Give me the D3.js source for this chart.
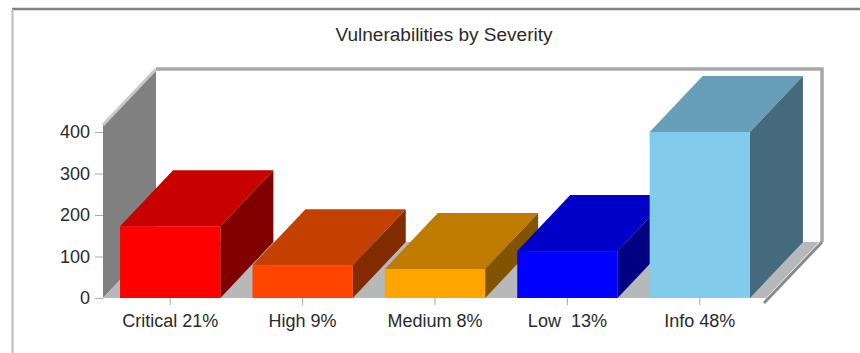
<!DOCTYPE html>
<html>
<head>
<meta charset="utf-8">
<script src="https://cdn.jsdelivr.net/npm/d3@7"></script>
<style>
  html, body { margin: 0; padding: 0; background: #fff; }
  svg { display: block; }
  text { font-family: "Liberation Sans", Arial, sans-serif; fill: #2a2a2a; white-space: pre; }
</style>
</head>
<body>
<div id="chart"></div>
<script>
// Severity counts behind the 3D column chart
const categories = ["Critical 21%", "High 9%", "Medium 8%", "Low  13%", "Info 48%"];
const counts = [173, 79, 70, 113, 400];
const tickValues = [0, 100, 200, 300, 400];
const frontColors = ["#ff0000", "#ff4500", "#ffa500", "#0000ff", "#82cbea"];
const topColors = ["#c80000", "#c44000", "#c07c00", "#0000c8", "#689eb8"];
const sideColors = ["#800000", "#802c00", "#805400", "#000080", "#456a7d"];
const chartTitle = "Vulnerabilities by Severity";

const width = 860, height = 353;
const depthX = 53, depthY = 56;

const x = d3.scaleBand().domain(categories).range([104, 766]).paddingInner(0.2424).paddingOuter(0.1212);
const y = d3.scaleLinear().domain([0, 400]).range([298, 132]);

const svg = d3.select("#chart").append("svg").attr("width", width).attr("height", height);
const poly = pts => d3.line()(pts) + "Z";

// Outer panel border
svg.append("rect").attr("width", width).attr("height", height).attr("fill", "#fff");
svg.append("path").attr("d", `M12,9H${width}`).attr("stroke", "#808080").attr("stroke-width", 2.5);
svg.append("path").attr("d", `M12.5,9V${height}`).attr("stroke", "#bcbcbc").attr("stroke-width", 2);

svg.append("text").attr("x", 444).attr("y", 41).attr("text-anchor", "middle")
  .attr("font-size", 18).attr("textLength", 217).attr("lengthAdjust", "spacingAndGlyphs").text(chartTitle);

// Box of the plot: side wall, floor, back wall rim
const wallLeft = 103, wallRight = 766, wallTop = y(417), base = y(0);
svg.append("path").attr("d", poly([[wallLeft, wallTop], [wallLeft + depthX, wallTop - depthY], [wallLeft + depthX, base - depthY], [wallLeft, base]])).attr("fill", "#808080");
svg.append("path").attr("d", poly([[wallLeft, base], [wallLeft + depthX, base - depthY], [wallRight + depthX, base - depthY], [wallRight, base]])).attr("fill", "#b6b8ba");
svg.append("path").attr("d", `M${wallLeft},${wallTop}L${wallLeft + depthX},${wallTop - depthY}`).attr("stroke", "#c8c8c8").attr("stroke-width", 3);
svg.append("path").attr("d", `M${wallLeft + depthX},${wallTop - depthY}H${wallRight + depthX + 3}V${base - depthY}`)
  .attr("fill", "none").attr("stroke", "#a8a8a8").attr("stroke-width", 3.5);
svg.append("path").attr("d", `M${wallRight + depthX + 3},${base - depthY}L${wallRight - 2},${base + 5}`)
  .attr("stroke", "#8a8a8a").attr("stroke-width", 3);

// Axes
const yAxis = svg.append("g").attr("transform", `translate(${wallLeft},0)`)
  .call(d3.axisLeft(y).tickValues(tickValues).tickSize(8).tickPadding(5));
const xAxis = svg.append("g").attr("transform", `translate(0,${base})`)
  .call(d3.axisBottom(x).tickSize(7).tickPadding(9));
[yAxis, xAxis].forEach(axis => {
  axis.select(".domain").remove();
  axis.selectAll("line").attr("stroke", "#a8a8a8");
  axis.selectAll("text").attr("font-size", 18).attr("fill", "#2a2a2a").attr("font-family", '"Liberation Sans", Arial, sans-serif');
});

// Columns: top, side and front faces, left to right so later columns overlap earlier ones
const bars = svg.append("g").selectAll("g").data(categories).join("g");
bars.each(function (c, i) {
  const g = d3.select(this);
  const x0 = x(c), x1 = x0 + x.bandwidth(), yT = y(counts[i]);
  g.append("path").attr("d", poly([[x0, yT], [x0 + depthX, yT - depthY], [x1 + depthX, yT - depthY], [x1, yT]])).attr("fill", topColors[i]);
  g.append("path").attr("d", poly([[x1, yT], [x1 + depthX, yT - depthY], [x1 + depthX, base - depthY], [x1, base]])).attr("fill", sideColors[i]);
  g.append("rect").attr("x", x0).attr("y", yT).attr("width", x.bandwidth()).attr("height", base - yT).attr("fill", frontColors[i]);
});
</script>
</body>
</html>
